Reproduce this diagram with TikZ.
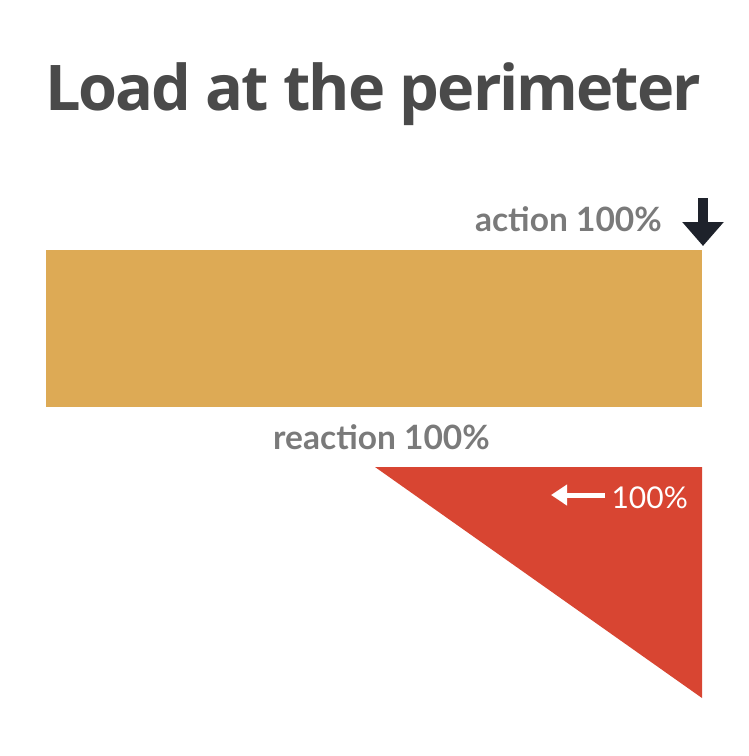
\documentclass[tikz,border=0pt]{standalone}
\usepackage{fontspec}
\setmainfont{Lato}
\newfontfamily\titlefont{Open Sans}[LetterSpace=-3.2]
\usetikzlibrary{positioning,arrows.meta}
\definecolor{barcol}{HTML}{DDAA55}
\definecolor{redcol}{HTML}{D84532}
\definecolor{textgray}{HTML}{7A7A7A}
\definecolor{titlegray}{HTML}{4A4A4A}
\definecolor{arrowcol}{HTML}{1E222B}
\begin{document}
\begin{tikzpicture}[x=1pt, y=-1pt,
	lbl/.style={font=\fontsize{33.5}{33.5}\selectfont\bfseries, text=textgray, inner sep=0pt, anchor=base east},
	box/.style={inner sep=0pt, anchor=north west}]
	\useasboundingbox (0,0) rectangle (748,756);
	\node[font=\titlefont\fontsize{63}{63}\selectfont\bfseries, text=titlegray, inner sep=0pt, anchor=base] (title) at (373,110) {Load at the perimeter};

	% beam
	\node[box, fill=barcol, minimum width=656pt, minimum height=157pt] (bar) at (46,250) {};
	\node[lbl] (action) at (662,231) {action 100\%};
	\node[lbl] (reaction) at (490,449) {reaction 100\%};

	% load arrow
	\coordinate (loadtop) at (703,198);
	\coordinate (loadtip) at (703,250);
	\draw[arrowcol, line width=10pt, -{Triangle[width=40pt, length=24pt]}, shorten >=4pt] (loadtop) -- (loadtip);

	% reaction diagram
	\coordinate (tri a) at (375,467);
	\coordinate (tri b) at (702,467);
	\coordinate (tri c) at (702,698);
	\fill[redcol] (tri a) -- (tri b) -- (tri c) -- cycle;
	\node[font=\fontsize{30}{30}\selectfont, text=white, inner sep=0pt, anchor=base east] (pct) at (688,508) {100\%};
	\coordinate (shaft end) at (605,495);
	\coordinate (shaft tip) at (551,495);
	\draw[white, line width=5pt, -{Triangle[width=20pt, length=16pt]}] (shaft end) -- (shaft tip);
\end{tikzpicture}
\end{document}
